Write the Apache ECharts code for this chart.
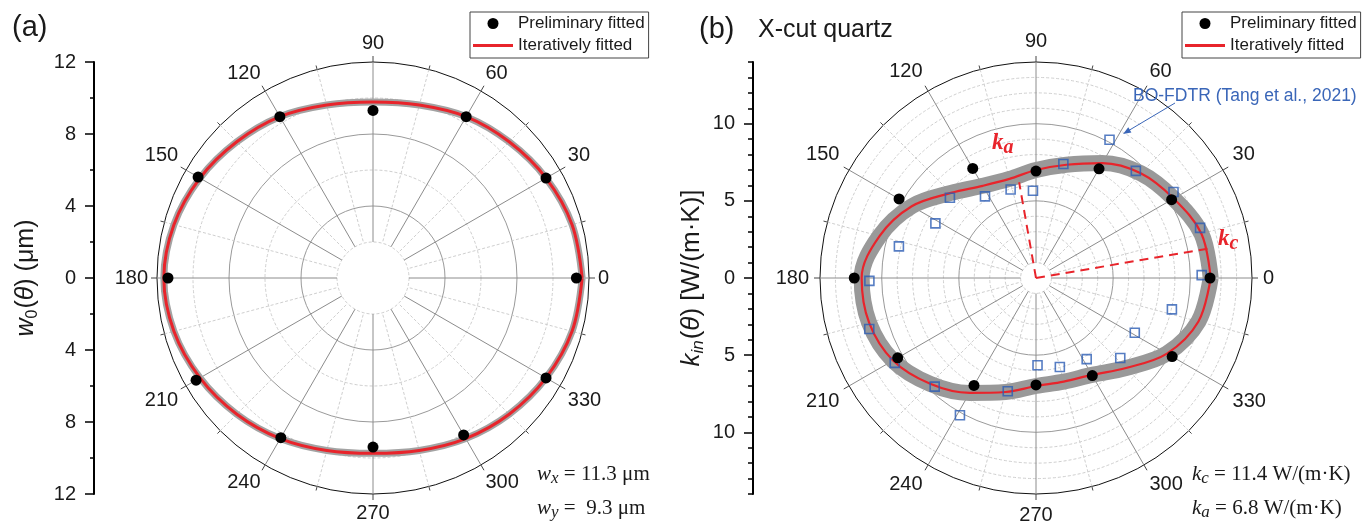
<!DOCTYPE html>
<html lang="en">
<head>
<meta charset="UTF-8">
<title>Polar fits</title>
<style>html,body{margin:0;padding:0;background:#fff;}</style>
</head>
<body>
<div id="main" style="width:1365px;height:528px;"></div>
<script src="https://cdn.jsdelivr.net/npm/echarts@6/dist/echarts.min.js"></script>
<script type="text/javascript">
// (a) beam radius w0(theta), um
var fitAngA = [0, 15, 30, 45, 60, 75, 90, 105, 120, 135, 150, 165, 180, 195, 210, 225, 240, 255, 270, 285, 300, 315, 330, 345, 360];
var fitA = [11.62, 11.45, 11.1, 10.7, 10.35, 9.95, 9.78, 9.95, 10.35, 10.7, 11.1, 11.45, 11.62, 11.45, 11.1, 10.7, 10.3, 9.92, 9.74, 9.92, 10.3, 10.7, 11.1, 11.45, 11.62];
var dotAngA = [0, 30, 60, 90, 120, 150, 180, 210, 240, 270, 300, 330];
var dotA = [11.3, 11.1, 10.35, 9.31, 10.35, 11.22, 11.39, 11.35, 10.24, 9.39, 10.07, 11.1];

// (b) in-plane conductivity of X-cut quartz, W/(m K)
var fitAngB = [0, 15, 30, 45, 60, 75, 90, 105, 120, 135, 150, 165, 180, 195, 210, 225, 240, 255, 270, 285, 300, 315, 330, 345, 360];
var fitB = [11.32, 11.1, 10.3, 9.6, 8.6, 7.6, 7.0, 6.65, 6.9, 7.8, 9.3, 10.5, 11.3, 11.2, 10.7, 9.7, 8.6, 7.65, 7.0, 6.95, 7.25, 8.25, 9.8, 10.9, 11.32];
var dotAngB = [0, 30, 60, 90, 120, 150, 180, 210, 240, 270, 300, 330];
var dotB = [11.28, 10.15, 8.17, 6.93, 8.2, 10.25, 11.78, 10.35, 8.04, 6.93, 7.3, 10.19];
// BO-FDTR (Tang et al., 2021)
var tangAng = [1, 17, 32, 47, 62, 76.5, 92, 106, 122, 137, 151.5, 167, 181, 197, 211, 227, 241, 256, 271, 285, 302, 316.5, 331, 347];
var tangK = [10.74, 11.12, 10.51, 9.49, 10.15, 7.6, 5.66, 5.97, 6.24, 7.63, 7.42, 9.12, 10.8, 11.3, 10.68, 9.63, 10.17, 7.57, 5.66, 5.97, 6.2, 7.53, 7.32, 9.04];
// principal directions: [radius, angle]
var kaLine = [[0, 100], [6.3, 100]];
var kcLine = [[0, 9.7], [11.6, 9.7]];

var yTicksB = [-10, -5, 0, 5, 10];

var legendNames = ['Preliminary fitted', 'Iteratively fitted'];

function pairs(r, a) {
    var out = [];
    for (var i = 0; i < r.length; i++) out.push([r[i], a[i]]);
    return out;
}

var SANS = "'Liberation Sans', Arial, sans-serif";
var SERIF = "'Liberation Serif', 'Times New Roman', serif";
var RED = '#e8242b';
var BLUE = '#2c5cb4';
var CA = [373, 278], CB = [1036, 278];
var R = 216;

var myChart = echarts.init(document.getElementById('main'));

function angleAxis(idx, margin) {
    return {
        polarIndex: idx, type: 'value', min: 0, max: 360, interval: 30,
        startAngle: 0, clockwise: false,
        axisLine: {show: false},
        axisTick: {show: true, length: 6, lineStyle: {color: '#444', width: 1}},
        minorTick: {show: true, splitNumber: 2, length: 4, lineStyle: {color: '#444', width: 1}},
        splitLine: {show: true, lineStyle: {color: '#8c8c8c', width: 1}},
        minorSplitLine: {show: true, lineStyle: {color: '#cfcfcf', width: 1, type: [3, 2]}},
        axisLabel: {
            margin: margin, fontSize: 20, color: '#1a1a1a', fontFamily: SANS,
            formatter: function (v) { return v === 360 ? '' : v; }
        }
    };
}
function hiddenAngle(idx) {
    return {polarIndex: idx, type: 'value', min: 0, max: 360, startAngle: 0, clockwise: false, show: false};
}
function radius(idx, min, max, interval, colors, dashed) {
    return {
        polarIndex: idx, type: 'value', min: min, max: max, interval: interval,
        axisLine: {show: false}, axisTick: {show: false}, axisLabel: {show: false},
        splitLine: {show: true, lineStyle: {color: colors, width: 1, type: dashed ? [3, 2] : 'solid'}}
    };
}

var T = 'rgba(0,0,0,0)', D = '#cfcfcf', G = '#9a9a9a', K = '#111';

function legend(left) {
    return {
        left: left, top: 12, orient: 'vertical', selectedMode: false,
        data: [
            {name: legendNames[0], icon: 'circle'},
            {name: legendNames[1], icon: 'path://M0,0L40,0L40,3L0,3Z'}
        ],
        itemWidth: 40, itemHeight: 11, itemGap: 5,
        padding: [3, 4, 4, 3], borderColor: '#444', borderWidth: 1,
        textStyle: {fontSize: 17, color: '#1a1a1a', fontFamily: SANS}
    };
}

function sub(fill, size, bold) {
    return {
        i: {fontFamily: SERIF, fontStyle: 'italic', fontWeight: bold ? 'bold' : 'normal', fontSize: size, fill: fill},
        s: {fontFamily: SERIF, fontStyle: 'italic', fontWeight: bold ? 'bold' : 'normal', fontSize: bold ? 20 : 17, fill: fill, padding: [bold ? 9 : 8, 0, 0, 0]},
        n: {fontFamily: SERIF, fontSize: size, fill: fill}
    };
}

function nameRich(size) {
    return {
        i: {fontSize: size, fontStyle: 'italic', color: '#1a1a1a', fontFamily: SANS},
        n: {fontSize: size, color: '#1a1a1a', fontFamily: SANS},
        s: {fontSize: Math.round(size * 0.65), fontStyle: 'italic', color: '#1a1a1a', fontFamily: SANS, padding: [13, 1, 0, 0]},
        u: {fontSize: Math.round(size * 0.65), color: '#1a1a1a', fontFamily: SANS, padding: [13, 1, 0, 0]}
    };
}

var option = {
    animation: false,
    backgroundColor: '#fff',
    textStyle: {fontFamily: SANS},
    polar: [
        {center: CA, radius: [R / 6, R]},
        {center: CA, radius: [0, R]},
        {center: CB, radius: [R / 14, R]},
        {center: CB, radius: [0, R]}
    ],
    angleAxis: [angleAxis(0, 9), hiddenAngle(1), angleAxis(2, 11), hiddenAngle(3)],
    radiusAxis: [
        radius(0, 2, 12, 2, [D, T], true),
        radius(1, 0, 12, 4, [G, G, G, K], false),
        radius(2, 1, 14, 1, [D, D, D, D, T, D, D, D, D, T, D, D, D, T], true),
        radius(3, 0, 14, 5, [G, G, G, K], false)
    ],
    grid: [
        {left: 94, top: 62, width: 10, height: 432, outerBoundsMode: 'none'},
        {left: 753, top: 62, width: 10, height: 432, outerBoundsMode: 'none'}
    ],
    xAxis: [
        {gridIndex: 0, type: 'value', show: false},
        {gridIndex: 1, type: 'value', show: false}
    ],
    yAxis: [
        {
            gridIndex: 0, type: 'value', min: -12, max: 12, interval: 4, position: 'left',
            axisLine: {show: true, onZero: false, lineStyle: {color: '#000', width: 2}},
            axisTick: {show: true, length: 9, lineStyle: {color: '#000', width: 1.5}},
            minorTick: {show: true, splitNumber: 2, length: 4, lineStyle: {color: '#000', width: 1.5}},
            splitLine: {show: false},
            axisLabel: {margin: 18, fontSize: 20, color: '#1a1a1a', formatter: function (v) { return Math.abs(v); }},
            name: '{i|w}{u|0}{n|(}{i|θ}{n|) (μm)}',
            nameLocation: 'middle', nameRotate: 90, nameGap: 53, nameMoveOverlap: false,
            nameTextStyle: {rich: nameRich(25)}
        },
        {
            gridIndex: 1, type: 'value', min: -14, max: 14, interval: 1, position: 'left',
            axisLine: {show: true, onZero: false, lineStyle: {color: '#000', width: 2}},
            axisTick: {show: true, length: 5, lineStyle: {color: '#000', width: 1.5}},
            splitLine: {show: false},
            axisLabel: {show: false}
        },
        {
            gridIndex: 1, type: 'value', min: -14, max: 14, interval: 1, position: 'left',
            axisLine: {show: false, onZero: false},
            axisTick: {show: true, length: 9, customValues: yTicksB, lineStyle: {color: '#000', width: 1.5}},
            splitLine: {show: false},
            axisLabel: {margin: 18, fontSize: 20, color: '#1a1a1a', customValues: yTicksB,
                formatter: function (v) { return Math.abs(v); }},
            name: '{i|k}{s|in}{n|(}{i|θ}{n|) [W/(m·K)]}',
            nameLocation: 'middle', nameRotate: 90, nameGap: 46, nameMoveOverlap: false,
            nameTextStyle: {rich: nameRich(26)}
        }
    ],
    legend: [legend(470), legend(1182)],
    series: [
        // panel (a)
        {name: 'band a', type: 'line', coordinateSystem: 'polar', polarIndex: 0, smooth: 0.35, symbol: 'none',
            data: pairs(fitA, fitAngA), lineStyle: {color: '#a3a3a3', width: 7}, z: 2},
        {name: legendNames[1], type: 'line', coordinateSystem: 'polar', polarIndex: 0, smooth: 0.35, symbol: 'none',
            data: pairs(fitA, fitAngA), lineStyle: {color: RED, width: 3}, itemStyle: {color: RED}, z: 3},
        {name: legendNames[0], type: 'scatter', coordinateSystem: 'polar', polarIndex: 0, symbolSize: 11,
            data: pairs(dotA, dotAngA), itemStyle: {color: '#000', opacity: 1}, z: 5},
        // panel (b)
        {name: 'band b', type: 'line', coordinateSystem: 'polar', polarIndex: 2, smooth: 0.35, symbol: 'none',
            data: pairs(fitB, fitAngB), lineStyle: {color: '#999', width: 16}, z: 2},
        {name: 'ka dir', type: 'line', coordinateSystem: 'polar', polarIndex: 3, symbol: 'none',
            data: kaLine, lineStyle: {color: RED, width: 2, type: [9, 6]}, z: 3},
        {name: 'kc dir', type: 'line', coordinateSystem: 'polar', polarIndex: 3, symbol: 'none',
            data: kcLine, lineStyle: {color: RED, width: 2, type: [9, 6]}, z: 3},
        {name: 'fit b', type: 'line', coordinateSystem: 'polar', polarIndex: 2, smooth: 0.35, symbol: 'none',
            data: pairs(fitB, fitAngB), lineStyle: {color: RED, width: 2.2}, z: 3},
        {name: 'BO-FDTR', type: 'scatter', coordinateSystem: 'polar', polarIndex: 2, symbol: 'rect', symbolSize: 9,
            data: pairs(tangK, tangAng), itemStyle: {color: 'rgba(255,255,255,0)', borderColor: BLUE, borderWidth: 1.6}, z: 4},
        {name: 'dots b', type: 'scatter', coordinateSystem: 'polar', polarIndex: 2, symbolSize: 11,
            data: pairs(dotB, dotAngB), itemStyle: {color: '#000', opacity: 1}, z: 5}
    ],
    graphic: [
        {type: 'text', left: 12, top: 13, style: {text: '(a)', font: '29px ' + SANS, fill: '#1a1a1a'}},
        {type: 'text', left: 699, top: 15, style: {text: '(b)', font: '29px ' + SANS, fill: '#1a1a1a'}},
        {type: 'text', left: 758, top: 18, style: {text: 'X-cut quartz', font: '25px ' + SANS, fill: '#1a1a1a'}},
        {type: 'text', left: 537, top: 464, style: {text: '{i|w}{s|x}{n| = 11.3 μm}', fill: '#1a1a1a', rich: sub('#1a1a1a', 21)}},
        {type: 'text', left: 537, top: 498, style: {text: '{i|w}{s|y}{n| =  9.3 μm}', fill: '#1a1a1a', rich: sub('#1a1a1a', 21)}},
        {type: 'text', left: 1192, top: 464, style: {text: '{i|k}{s|c}{n| = 11.4 W/(m·K)}', fill: '#1a1a1a', rich: sub('#1a1a1a', 21)}},
        {type: 'text', left: 1192, top: 498, style: {text: '{i|k}{s|a}{n| = 6.8 W/(m·K)}', fill: '#1a1a1a', rich: sub('#1a1a1a', 21)}},
        {type: 'text', left: 992, top: 132, z: 10, style: {text: '{i|k}{s|a}', fill: RED, rich: sub(RED, 23, true)}},
        {type: 'text', left: 1218, top: 228, z: 10, style: {text: '{i|k}{s|c}', fill: RED, rich: sub(RED, 23, true)}},
        {type: 'text', left: 1133, top: 87, z: 10, style: {text: 'BO-FDTR (Tang et al., 2021)', font: '17.5px ' + SANS, fill: '#3a66b8'}},
        {type: 'line', z: 10, shape: {x1: 1175, y1: 103, x2: 1127, y2: 131.5}, style: {stroke: '#3a66b8', lineWidth: 1}},
        {type: 'polygon', z: 10, shape: {points: [[1123, 134], [1131.4, 132.5], [1128.3, 127.3]]}, style: {fill: '#3a66b8'}}
    ]
};

myChart.setOption(option);
</script>
</body>
</html>
